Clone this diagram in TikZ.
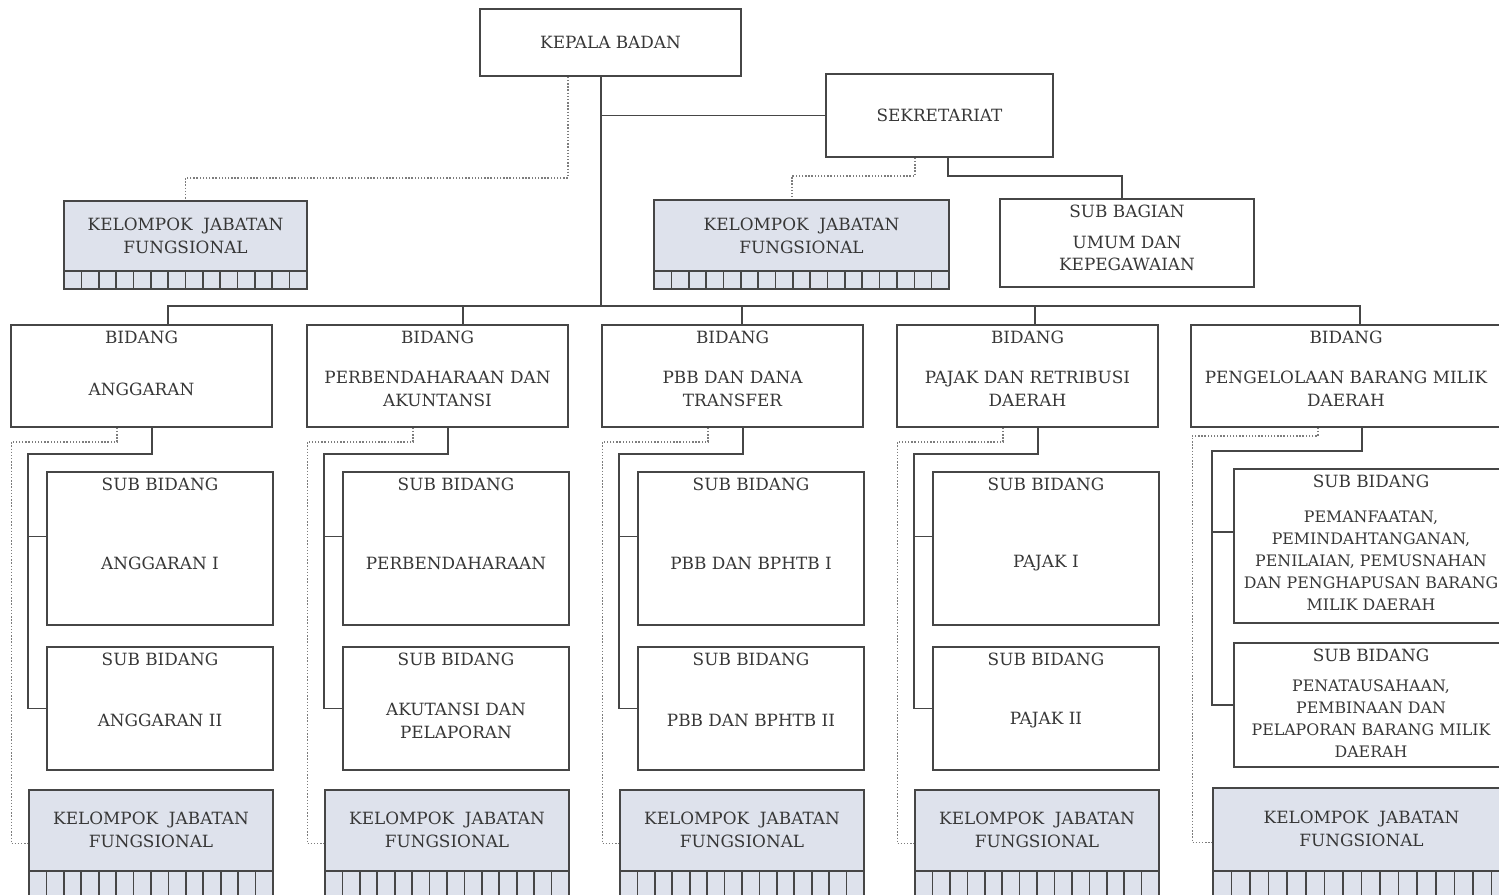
\documentclass[tikz,border=0pt]{standalone}
\usepackage{fontspec}
\setmainfont{DejaVu Serif}
\usetikzlibrary{calc}
\definecolor{linec}{RGB}{70,70,70}
\definecolor{dotc}{RGB}{125,125,125}
\definecolor{kjfc}{RGB}{222,226,236}
\definecolor{textc}{RGB}{55,55,55}
\newcommand\orgfont{\fontsize{9.6}{13}\selectfont}
\newcommand\orgsmall{\fontsize{9}{12.5}\selectfont}
\begin{document}
\begin{tikzpicture}[x=.02cm,y=-.02cm,font=\orgfont,text=textc,
  every label/.style={align=center},
  box/.style={draw=linec,line width=.9pt,fill=white,inner sep=0pt},
  sz/.style 2 args={minimum width=#1*.02cm,minimum height=#2*.02cm},
  head/.style={label={[anchor=north,inner sep=3.5pt]north:#1}},
  nm/.style 2 args={label={[yshift=#1*.02cm]center:{#2}}},
  nms/.style 2 args={label={[yshift=#1*.02cm,font=\orgsmall]center:{#2}}},
  conn/.style={draw=linec,line width=.9pt},
  dot/.style={draw=dotc,line width=.8pt,densely dotted},
  kjf/.style 2 args={box,fill=kjfc,path picture={
    \draw[conn] ($(path picture bounding box.south west)+(0,-#2)$) -- ($(path picture bounding box.south east)+(0,-#2)$);
    \foreach \c in {1,...,#1} \draw[conn] ($(path picture bounding box.south west)!\c/#1!(path picture bounding box.south east)$) -- ++(0,-#2);}}]
\useasboundingbox (0,0) rectangle (1499,894);
\clip (0,0) rectangle (1499,894);
% top
\node[box,sz={261}{67}] (kb) at (610.5,42.5) {KEPALA BADAN};
\node[box,sz={227}{83}] (sek) at (939.5,115.5) {SEKRETARIAT};
\node[kjf={14}{18},sz={243}{88},nm={9}{KELOMPOK~~JABATAN\\FUNGSIONAL}] (kj0) at (185.5,245) {};
\node[kjf={17}{18},sz={295}{89},nm={9}{KELOMPOK~~JABATAN\\FUNGSIONAL}] (kj6) at (801.5,244.5) {};
\node[box,sz={254}{88},head={SUB BAGIAN},nm={-10.5}{UMUM DAN\\KEPEGAWAIAN}] (sbag) at (1127,243) {};
\draw[conn] ($(kb.south)+(-9.5,0)$) |- (sek.west);
\draw[dot] ($(kb.south)+(-42.5,0)$) -- ++(0,101) -| (kj0.north);
\draw[dot] ($(sek.south)+(-24.5,0)$) -- ++(0,18) -| ($(kj6.north)+(-9.5,0)$);
\draw[conn] ($(sek.south)+(8.5,0)$) -- ++(0,18) -| ($(sbag.north)+(-5,0)$);
% bidang 1-4
\foreach \i/\L/\tp/\bn/\sa/\sb in {1/11/157/ANGGARAN/{ANGGARAN I}/{ANGGARAN II},
  2/307/156/{PERBENDAHARAAN DAN\\AKUNTANSI}/PERBENDAHARAAN/{AKUTANSI DAN\\PELAPORAN},
  3/602/140/{PBB DAN DANA\\TRANSFER}/{PBB DAN BPHTB I}/{PBB DAN BPHTB II},
  4/897/138/{PAJAK DAN RETRIBUSI\\DAERAH}/{PAJAK I}/{PAJAK II}} {
  \node[box,sz={261}{102},head=BIDANG,nm={-13}{\bn}] (b\i) at (\L+130.5,376) {};
  \node[box,sz={226}{153},head={SUB BIDANG},nm={-14.5}{\sa}] (sa\i) at (\L+149,548.5) {};
  \node[box,sz={226}{123},head={SUB BIDANG},nm={-12}{\sb}] (sb\i) at (\L+149,708.5) {};
  \node[kjf={14}{26},sz={244}{107},nm={14}{KELOMPOK~~JABATAN\\FUNGSIONAL}] (kf\i) at (\L+140,843.5) {};
  \draw[conn] ($(b\i.north)+(\tp-130.5,0)$) -- ++(0,-18) -| ($(kb.south)+(-9.5,0)$);
  \draw[dot] ($(b\i.south)+(-24.5,0)$) -- ++(0,14) -| ($(kf\i.west)+(-17,0)$) -- (kf\i.west);
  \draw[conn] ($(b\i.south)+(10.5,0)$) -- ++(0,26) -| (sb\i.west -| kf\i.west) -- (sb\i.west);
  \draw[conn] ($(sa\i.west)+(0,-12)$) -- ++(-18,0);
}
% bidang 5
\node[box,sz={310}{102},head=BIDANG,nm={-13}{PENGELOLAAN BARANG MILIK\\DAERAH}] (b5) at (1346,376) {};
\node[box,sz={274}{154},head={SUB BIDANG},nms={-15}{PEMANFAATAN,\\PEMINDAHTANGANAN,\\PENILAIAN, PEMUSNAHAN\\DAN PENGHAPUSAN BARANG\\MILIK DAERAH}] (sa5) at (1371,546) {};
\node[box,sz={274}{124},head={SUB BIDANG},nms={-14}{PENATAUSAHAAN,\\PEMBINAAN DAN\\PELAPORAN BARANG MILIK\\DAERAH}] (sb5) at (1371,705) {};
\node[kjf={16}{26},sz={297}{109},nm={14}{KELOMPOK~~JABATAN\\FUNGSIONAL}] (kf5) at (1361.5,842.5) {};
\draw[conn] ($(b5.north)+(14,0)$) -- ++(0,-18) -| ($(kb.south)+(-9.5,0)$);
\draw[dot] ($(b5.south)+(-28,0)$) -- ++(0,8) -| ($(kf5.west)+(-20,0)$) -- (kf5.west);
\draw[conn] ($(b5.south)+(16,0)$) -- ++(0,23) -| (sb5.west -| kf5.west) -- (sb5.west);
\draw[conn] ($(sa5.west)+(0,-14)$) -- ++(-21,0);
\end{tikzpicture}
\end{document}
